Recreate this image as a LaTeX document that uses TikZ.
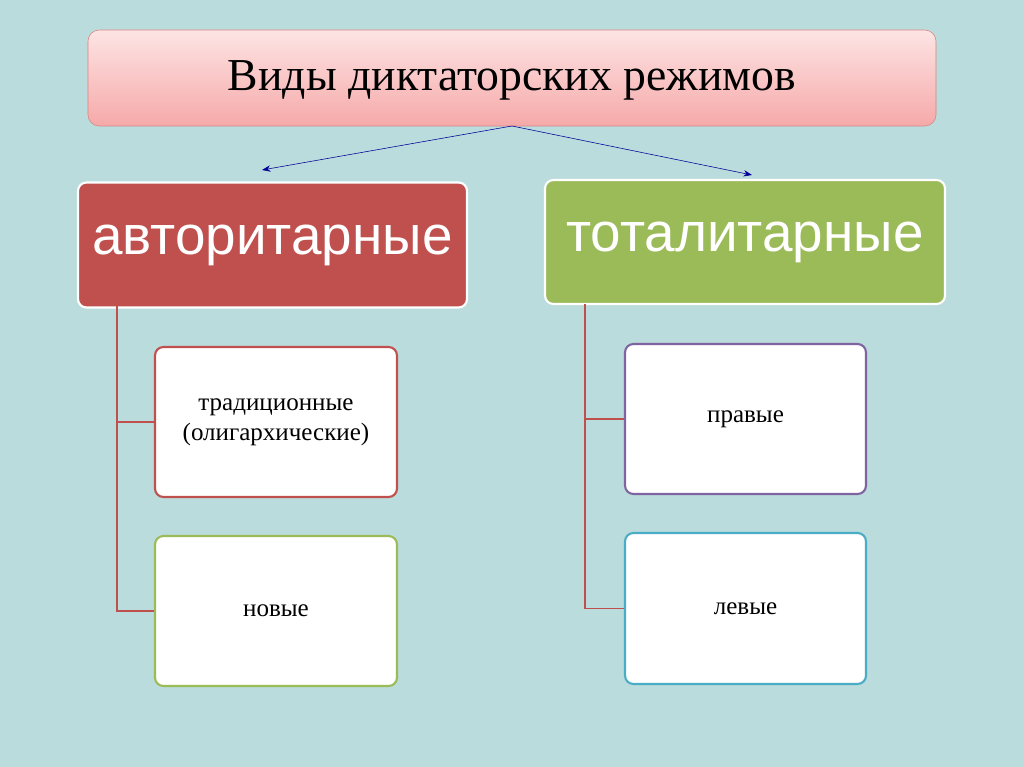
\documentclass[tikz,border=0pt]{standalone}
\usepackage{fontspec}
\setmainfont{Liberation Serif}
\setsansfont{Liberation Sans}
\usetikzlibrary{arrows.meta}
\definecolor{bgteal}{HTML}{BBDCDC}
\definecolor{redbox}{HTML}{C0504D}
\definecolor{greenbox}{HTML}{9BBB59}
\definecolor{purplebox}{HTML}{8064A2}
\definecolor{cyanbox}{HTML}{4BACC6}
\definecolor{pinktop}{HTML}{FDE4E4}
\definecolor{pinkbot}{HTML}{F6A9A9}
\tikzset{
  kind/.style={rectangle, rounded corners=6pt, draw=white, line width=1.5pt,
    text=white, font=\sffamily\fontsize{39}{42}\selectfont},
  sub/.style={rectangle, rounded corners=6pt, fill=white, line width=1.5pt,
    align=center, font=\fontsize{17.8}{21}\selectfont},
  link/.style={draw=redbox, line width=1pt},
}
\begin{document}
\begin{tikzpicture}[x=0.025cm, y=-0.025cm]
    \fill[bgteal] (0,0) rectangle (1024,767);
    \useasboundingbox (0,0) rectangle (1024,767);
    \shade[top color=pinktop, bottom color=pinkbot, rounded corners=8pt, draw=redbox!70]
      (88,30) rectangle (936,126);
    \node (title) at (512,80) {\fontsize{32.5}{36}\selectfont Виды диктаторских режимов};
    \coordinate (top) at (512,126);
    \node[kind, fill=redbox, minimum width=389*0.025cm, minimum height=125*0.025cm] (auth) at (272.5,245) {авторитарные};
    \node[kind, fill=greenbox, minimum width=400*0.025cm, minimum height=124*0.025cm] (tot) at (745,242) {тоталитарные};
    \node[sub, draw=redbox, minimum width=242*0.025cm, minimum height=150*0.025cm] (trad) at (276,422) {традиционные\\(олигархические)};
    \node[sub, draw=greenbox, minimum width=242*0.025cm, minimum height=150*0.025cm] (new) at (276,611) {новые};
    \node[sub, draw=purplebox, minimum width=241*0.025cm, minimum height=150*0.025cm] (right) at (745.5,419) {правые};
    \node[sub, draw=cyanbox, minimum width=241*0.025cm, minimum height=151*0.025cm] (left) at (745.5,608.5) {левые};
    \draw[-{Stealth[length=6pt]}, blue!60!black, thin] (top) -- (262,170);
    \draw[-{Stealth[length=6pt]}, blue!60!black, thin] (top) -- (752,175);
    \draw[link] (117,305) |- (trad.west);
    \draw[link] (117,305) |- (new.west);
    \draw[link] (585,304) |- (right.west);
    \draw[link] (585,304) |- (left.west);
\end{tikzpicture}
\end{document}
